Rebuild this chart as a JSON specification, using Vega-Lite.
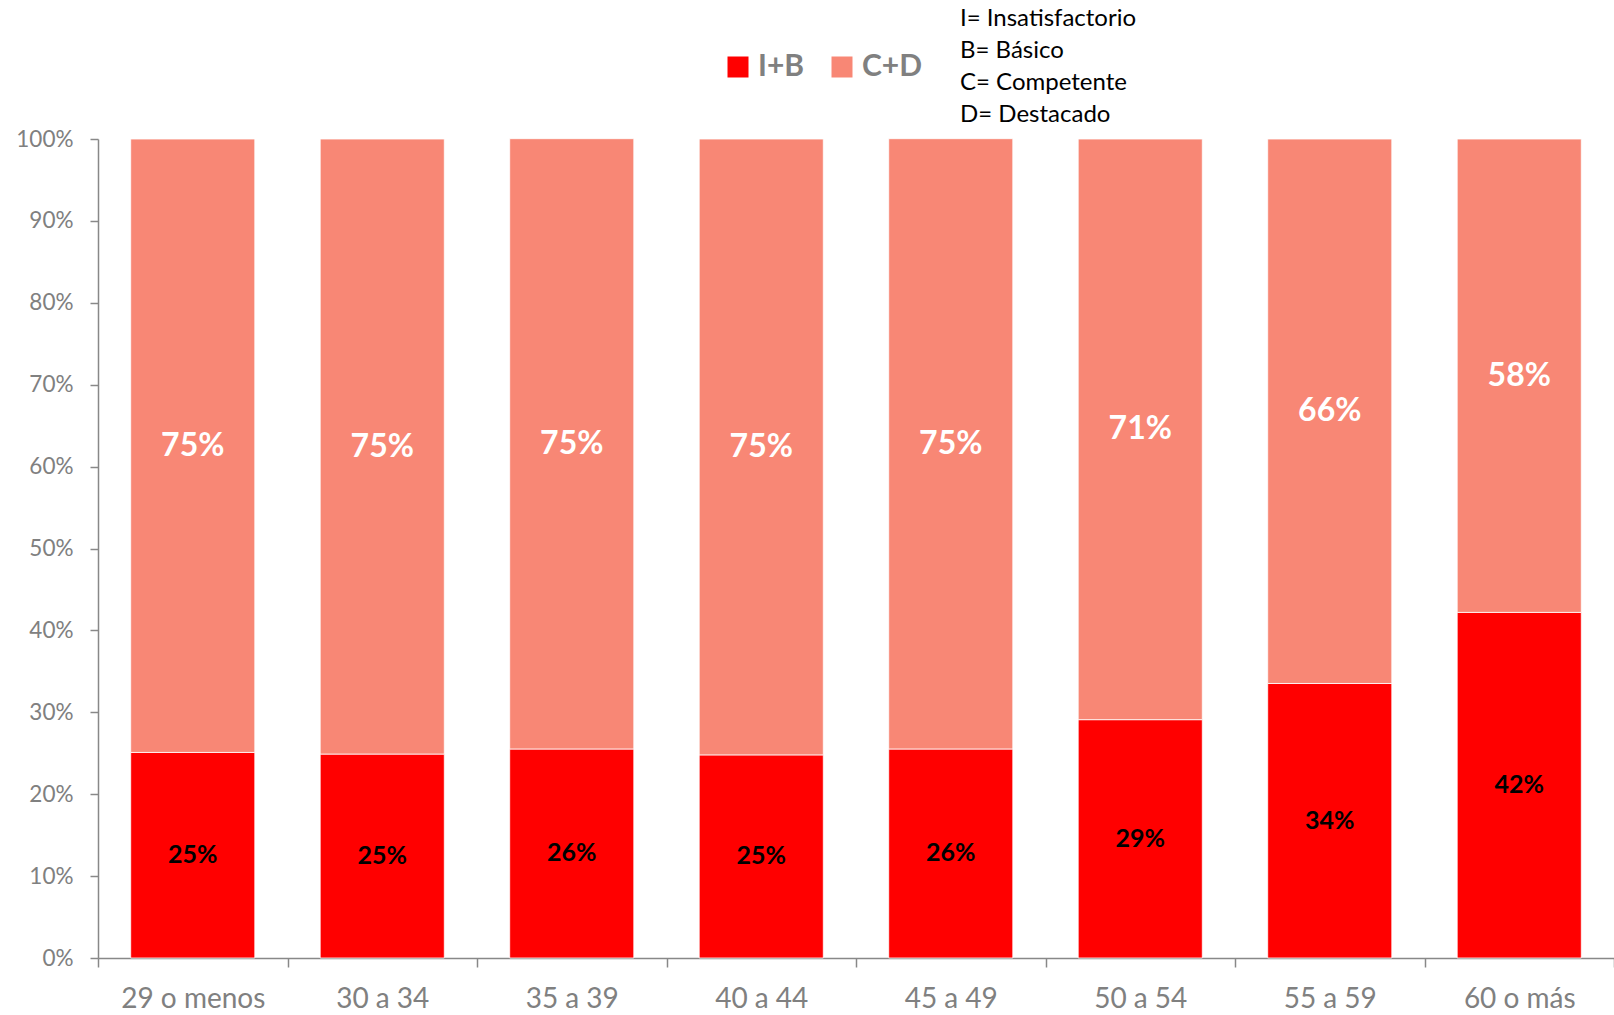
{
  "$schema": "https://vega.github.io/schema/vega-lite/v6.json",
  "autosize": {"type": "none"},
  "width": 1516,
  "height": 819,
  "padding": {"left": 98, "top": 139, "right": 0, "bottom": 57},
  "background": "white",
  "config": {
    "font": "Lato",
    "view": {"stroke": null}
  },
  "title": {
    "text": ["I= Insatisfactorio", "B= Básico", "C= Competente", "D= Destacado"],
    "anchor": "start",
    "frame": "group",
    "orient": "top",
    "dx": 862,
    "dy": 89,
    "offset": 14,
    "fontSize": 24,
    "fontWeight": "normal",
    "color": "#000000",
    "lineHeight": 32,
    "font": "Lato"
  },
  "data": {
    "values": [
      {"edad": "29 o menos", "serie": "I+B", "orden": 1, "valor": 0.251},
      {"edad": "29 o menos", "serie": "C+D", "orden": 2, "valor": 0.749},
      {"edad": "30 a 34", "serie": "I+B", "orden": 1, "valor": 0.249},
      {"edad": "30 a 34", "serie": "C+D", "orden": 2, "valor": 0.751},
      {"edad": "35 a 39", "serie": "I+B", "orden": 1, "valor": 0.2552},
      {"edad": "35 a 39", "serie": "C+D", "orden": 2, "valor": 0.7452},
      {"edad": "40 a 44", "serie": "I+B", "orden": 1, "valor": 0.248},
      {"edad": "40 a 44", "serie": "C+D", "orden": 2, "valor": 0.752},
      {"edad": "45 a 49", "serie": "I+B", "orden": 1, "valor": 0.2552},
      {"edad": "45 a 49", "serie": "C+D", "orden": 2, "valor": 0.7452},
      {"edad": "50 a 54", "serie": "I+B", "orden": 1, "valor": 0.291},
      {"edad": "50 a 54", "serie": "C+D", "orden": 2, "valor": 0.709},
      {"edad": "55 a 59", "serie": "I+B", "orden": 1, "valor": 0.3352},
      {"edad": "55 a 59", "serie": "C+D", "orden": 2, "valor": 0.6648},
      {"edad": "60 o más", "serie": "I+B", "orden": 1, "valor": 0.422},
      {"edad": "60 o más", "serie": "C+D", "orden": 2, "valor": 0.578}
    ]
  },
  "transform": [
    {"stack": "valor", "groupby": ["edad"], "sort": [{"field": "orden", "order": "ascending"}], "as": ["v0", "v1"]},
    {"calculate": "(datum.v0 + datum.v1) / 2", "as": "vmid"}
  ],
  "encoding": {
    "x": {
      "field": "edad",
      "type": "nominal",
      "sort": null,
      "scale": {"paddingInner": 0, "paddingOuter": 0},
      "axis": {
        "title": null,
        "labelAngle": 0,
        "labelFontSize": 28,
        "labelColor": "#808080",
        "labelPadding": 18,
        "domainColor": "#888888",
        "domainWidth": 1.5,
        "tickColor": "#888888",
        "tickWidth": 1.5,
        "tickSize": 9,
        "tickBand": "extent",
        "grid": false
      }
    }
  },
  "layer": [
    {
      "mark": {"type": "bar", "stroke": "#ffffff", "strokeWidth": 0.8, "width": {"band": 0.655}},
      "encoding": {
        "y": {
          "field": "v0",
          "type": "quantitative",
          "scale": {"domain": [0, 1], "nice": false},
          "axis": {
            "title": null,
            "format": ".0%",
            "values": [0, 0.1, 0.2, 0.3, 0.4, 0.5, 0.6, 0.7, 0.8, 0.9, 1],
            "labelFontSize": 22.5,
            "labelColor": "#808080",
            "labelPadding": 17,
            "domainColor": "#888888",
            "domainWidth": 1.5,
            "tickColor": "#888888",
            "tickWidth": 1.5,
            "tickSize": 8,
            "grid": false
          }
        },
        "y2": {"field": "v1"},
        "color": {
          "field": "serie",
          "type": "nominal",
          "scale": {"domain": ["I+B", "C+D"], "range": ["#FF0000", "#F88775"]},
          "legend": {
            "title": null,
            "orient": "none",
            "direction": "horizontal",
            "legendX": 625,
            "legendY": -87,
            "symbolType": "square",
            "symbolSize": 441,
            "symbolStrokeWidth": 0,
            "labelFontSize": 30,
            "labelFontWeight": "bold",
            "labelColor": "#808080",
            "labelOffset": 5,
            "columnPadding": 22,
            "padding": 0
          }
        }
      }
    },
    {
      "mark": {"type": "text", "fontWeight": "bold", "baseline": "middle", "align": "center"},
      "encoding": {
        "y": {"field": "vmid", "type": "quantitative"},
        "text": {"field": "valor", "type": "quantitative", "format": ".0%"},
        "color": {
          "condition": {"test": "datum.serie === 'I+B'", "value": "#000000"},
          "value": "#ffffff"
        },
        "size": {
          "condition": {"test": "datum.serie === 'I+B'", "value": 25},
          "value": 32
        }
      }
    }
  ]
}
